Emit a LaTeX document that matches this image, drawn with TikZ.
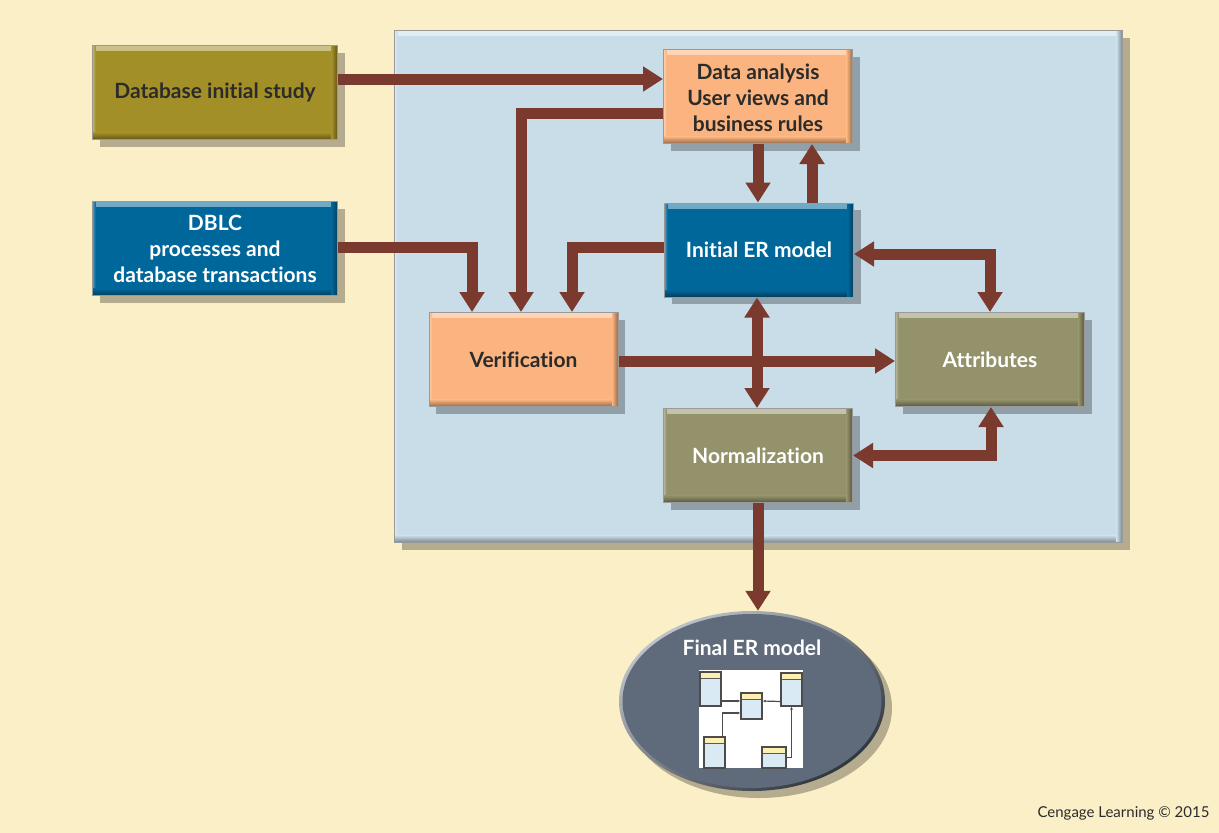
\documentclass[tikz,border=0pt]{standalone}
\usepackage{fontspec}
\setmainfont{Lato}[Ligatures=CommonOff]
\usetikzlibrary{arrows.meta,calc,shadows,shapes.geometric}
\definecolor{pagecream}{HTML}{FBEFC7}
\definecolor{panelblue}{HTML}{C9DDE9}
\definecolor{flowbrown}{HTML}{7B3A2E}
\definecolor{studyolive}{HTML}{A38F27}
\definecolor{sysblue}{HTML}{00679A}
\definecolor{steporange}{HTML}{FBB47F}
\definecolor{modelolive}{HTML}{94926A}
\definecolor{finalslate}{HTML}{5F6B7B}
\definecolor{inktext}{HTML}{2B2B2B}
\definecolor{tablefill}{HTML}{DAEAF4}
\definecolor{tablehead}{HTML}{FCEFB0}
\tikzset{
	softshadow/.style={drop shadow={shadow xshift=7pt, shadow yshift=-7pt, fill=black, opacity=.28}},
	bevelbox/.style={draw=black!40, line width=1pt, fill=#1, align=center, inner sep=0pt,
		minimum width=189pt, minimum height=94pt,
		font=\fontsize{21}{26}\selectfont\bfseries, softshadow,
		path picture={
			\shade[top color=#1!55!white, bottom color=#1] (path picture bounding box.north west) rectangle ([yshift=-5pt]path picture bounding box.north east);
			\shade[left color=#1!65!white, right color=#1] (path picture bounding box.south west) rectangle ([xshift=3pt]path picture bounding box.north west);
			\shade[top color=#1, bottom color=#1!60!black] ([yshift=7pt]path picture bounding box.south west) rectangle (path picture bounding box.south east);
			\shade[left color=#1, right color=#1!60!black] ([xshift=-6pt]path picture bounding box.south east) rectangle (path picture bounding box.north east);
		}},
	widebox/.style={bevelbox=#1, minimum width=245pt},
	flow/.style={draw=flowbrown, line width=11pt, -{Triangle[length=20pt,width=24pt]}},
	flowboth/.style={draw=flowbrown, line width=11pt, {Triangle[length=20pt,width=24pt]}-{Triangle[length=20pt,width=24pt]}},
	tablebox/.style={draw=black!70, line width=1.3pt, fill=tablefill, inner sep=0pt,
		path picture={
			\fill[tablehead] ([yshift=-1pt]path picture bounding box.north west) rectangle ([yshift=-6pt]path picture bounding box.north east);
			\draw[black!65, line width=.8pt] ([yshift=-6pt]path picture bounding box.north west) -- ([yshift=-6pt]path picture bounding box.north east);
		}},
	tablelink/.style={draw=black!70, line width=1.2pt, -{Latex[length=3pt,width=3pt]}},
}
\begin{document}
\begin{tikzpicture}[x=1pt, y=-1pt]
	\fill[pagecream] (0,0) rectangle (1219,833);
	\useasboundingbox (0,0) rectangle (1219,833);

	% large panel behind the process
	\node[bevelbox=panelblue, minimum width=728pt, minimum height=512pt] (panel) at (758.5,286.5) {};

	\node[widebox=studyolive, text=inktext] (study) at (215,92.5) {Database initial study};
	\node[widebox=sysblue, text=white] (dblc) at (215,248.5) {DBLC\\processes and\\database transactions};
	\node[bevelbox=steporange, text=inktext] (analysis) at (758,96.5) {\rule{0pt}{19pt}Data analysis\\User views and\\business rules};
	\node[bevelbox=sysblue, text=white] (initial) at (759,250) {Initial ER model};
	\node[bevelbox=steporange, text=inktext] (verify) at (523.5,359.5) {Verification};
	\node[bevelbox=modelolive, text=white] (attributes) at (990,359.5) {Attributes};
	\node[bevelbox=modelolive, text=white] (normal) at (758,455.5) {Normalization};

	% final model
	\node[ellipse, minimum width=266pt, minimum height=180pt, inner sep=0pt,
		shading=axis, top color=finalslate!40!white, bottom color=finalslate!50!black, shading angle=35,
		softshadow] (final) at (752,701) {};
	\node[ellipse, fill=finalslate, minimum width=259pt, minimum height=174pt, inner sep=0pt] (finalface) at (752,701) {};
	\node[text=white, font=\fontsize{21}{24}\selectfont\bfseries] (finallabel) at (752,648) {Final ER model};

	\node[fill=white, minimum width=104pt, minimum height=98pt, inner sep=0pt] (sheet) at (751,719) {};
	\node[tablebox, minimum width=21pt, minimum height=34pt] (tableA) at (710.5,689) {};
	\node[tablebox, minimum width=21pt, minimum height=26pt] (tableB) at (751.5,706) {};
	\node[tablebox, minimum width=21pt, minimum height=33pt] (tableC) at (791.5,689.5) {};
	\node[tablebox, minimum width=21pt, minimum height=31pt] (tableD) at (714.5,752.5) {};
	\node[tablebox, minimum width=24pt, minimum height=21pt] (tableE) at (774,757.5) {};
	\draw[tablelink] ([yshift=-12pt]tableA.east) -- ([yshift=5pt]tableB.west);
	\draw[tablelink] ([yshift=-12pt]tableC.west) -- ([yshift=5pt]tableB.east);
	\draw[tablelink] ([xshift=8pt]tableD.north) |- ([yshift=-7pt]tableB.west);
	\draw[tablelink] (tableE.east) -| (tableC.south);

	% connectors
	\draw[flow] ([yshift=13.5pt]study.east) -- ([yshift=17.5pt]analysis.west);
	\draw[flow] ([yshift=-16.5pt]analysis.west) -| ([xshift=-2.5pt]verify.north);
	\draw[flow] (analysis.south) -- (analysis.south |- initial.north);
	\draw[flow] ([xshift=53pt]initial.north) -- ([xshift=53pt]initial.north |- analysis.south);
	\draw[flow] ([yshift=1.5pt]dblc.east) -| ([xshift=-51.5pt]verify.north);
	\draw[flow] ([yshift=3pt]initial.west) -| ([xshift=48.5pt]verify.north);
	\draw[flowboth] ([yshift=-4pt]initial.east) -| (attributes.north);
	\draw[flow] ([yshift=-1.5pt]verify.east) -- ([yshift=-1.5pt]attributes.west);
	\draw[flowboth] ([xshift=-2pt]initial.south) -- ([xshift=-1pt]normal.north);
	\draw[flowboth] (normal.east) -| ([xshift=1pt]attributes.south);
	\draw[flow] (normal.south) -- (normal.south |- final.north);

	\node[anchor=east, text=inktext, font=\fontsize{15}{18}\selectfont] (credit) at (1213,813) {Cengage Learning © 2015};
\end{tikzpicture}
\end{document}
